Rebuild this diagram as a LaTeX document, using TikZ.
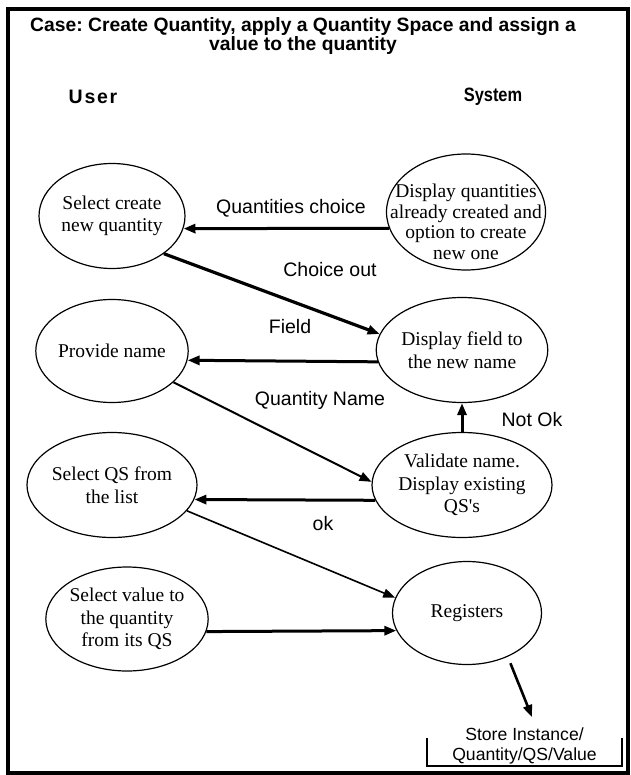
\documentclass[tikz,border=0pt]{standalone}
\usepackage{fontspec}
\setmainfont{Liberation Serif}
\setsansfont{Liberation Sans}
\usetikzlibrary{arrows.meta,shapes.geometric}
\frenchspacing
\begin{document}
\begin{tikzpicture}[x=1pt,y=-1pt,
  ell/.style={draw, ellipse, line width=1.2pt, inner sep=0pt, align=center,
    font=\fontsize{19.5}{22.5}\selectfont},
  etext/.style={align=center, inner sep=0pt, font=\fontsize{19.5}{20.5}\selectfont},
  lbl/.style={font=\sffamily\fontsize{19.5}{22}\selectfont, inner sep=0pt},
  hd/.style={font=\sffamily\bfseries\fontsize{19.3}{19.5}\selectfont, inner sep=0pt, align=center},
  tip/.style={-{Triangle[length=12pt,width=9pt]}}
]
\useasboundingbox (0,0) rectangle (630,775);
\draw[line width=4pt] (8,9) rectangle (627.5,773);

\node[hd] (title) at (303,36) {Case: Create Quantity, apply a Quantity Space and assign a\\value to the quantity};
\node[hd, font=\sffamily\bfseries\fontsize{19.5}{20}\selectfont\addfontfeature{LetterSpace=9}] (user) at (93,97) {User};
\node[hd] (sys) at (493,97) {\scalebox{0.85}[1]{System}};

% ellipses
\node[ell, minimum width=146pt, minimum height=105pt] (A) at (112,216) {Select create\\new quantity};
\node[ell, minimum width=159pt, minimum height=116pt] (B) at (466,212) {};
\node[etext] (Bt) at (466,222) {Display quantities\\already created and\\option to create\\new one};
\node[ell, minimum width=147pt, minimum height=103pt] (C) at (112,351) {Provide name};
\node[ell, minimum width=148pt, minimum height=105pt] (D) at (462,350) {Display field to\\the new name};
\node[ell, minimum width=146pt, minimum height=105pt] (E) at (112,485) {Select QS from\\the list};
\node[ell, minimum width=147pt, minimum height=104pt] (F) at (127,619) {Select value to\\the quantity\\from its QS};
\node[ell, minimum width=148pt, minimum height=105pt] (G) at (462,485) {Validate name.\\Display existing\\QS\textquotesingle s};
\node[ell, minimum width=149pt, minimum height=103pt] (R) at (467,613) {Registers};

% store
\node[font=\sffamily\fontsize{17.6}{20}\selectfont, align=center, inner sep=0pt,
  minimum width=195pt, minimum height=40pt] (store) at (524.5,746) {Store Instance/\\Quantity/QS/Value};
\draw[line width=1.5pt] ([yshift=-12pt]store.north west) |- (store.south east) -- ([yshift=-12pt]store.north east);
\coordinate (st) at (532,717);

% labels
\node[lbl] (l1) at (291,208) {Quantities choice};
\node[lbl] (l2) at (330,270) {Choice out};
\node[lbl] (l3) at (290,327) {Field};
\node[lbl] (l4) at (320,400) {Quantity Name};
\node[lbl] (l5) at (532,420) {Not Ok};
\node[lbl] (l6) at (323,524) {ok};

% arrows
\draw[tip, line width=3pt] (B.192) -- (A.-10);
\draw[tip, line width=3.2pt] (A.-36) -- (D.169);
\draw[tip, line width=3pt] (D.188) -- (C.-7);
\draw[tip, line width=2pt] (C.-27) -- (G.178);
\draw[tip, line width=3pt] (G.north) -- (D.south);
\draw[tip, line width=3pt] (G.190) -- (E.-10);
\draw[tip, line width=1.6pt] (E.-19) -- (R.168);
\draw[tip, line width=3pt] (F.-9) -- (R.194);
\draw[tip, line width=2.6pt, shorten <=7pt] (R.-47) -- (st);
\end{tikzpicture}
\end{document}
